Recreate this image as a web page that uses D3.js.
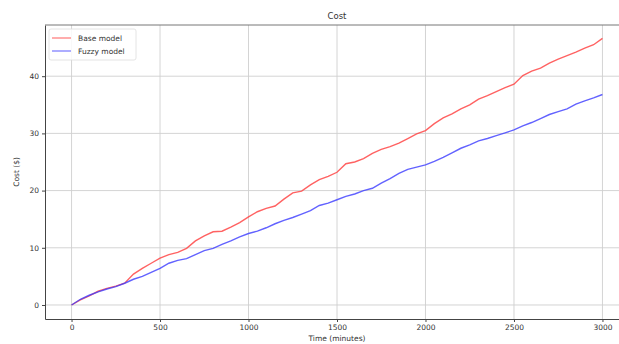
<!DOCTYPE html>
<html><head><meta charset="utf-8">
<script src="https://cdn.jsdelivr.net/npm/d3@7"></script>
<style>body{margin:0;background:#fff}svg{display:block}text{font-family:"DejaVu Sans",sans-serif;fill:#333}</style>
</head><body><svg id="c" width="619" height="344"></svg>
<script>
const times = [0,50,100,150,200,250,300,350,400,450,500,550,600,650,700,750,800,850,900,950,1000,1050,1100,1150,1200,1250,1300,1350,1400,1450,1500,1550,1600,1650,1700,1750,1800,1850,1900,1950,2000,2050,2100,2150,2200,2250,2300,2350,2400,2450,2500,2550,2600,2650,2700,2750,2800,2850,2900,2950,3000];
const baseModel = [0,0.9,1.6,2.4,2.9,3.3,3.8,5.4,6.4,7.3,8.2,8.8,9.2,9.9,11.2,12.1,12.8,12.9,13.6,14.4,15.4,16.3,16.9,17.3,18.5,19.6,19.9,21.0,21.9,22.5,23.2,24.7,25.0,25.6,26.5,27.2,27.7,28.3,29.1,29.9,30.5,31.7,32.7,33.4,34.3,35.0,36.0,36.6,37.3,38.0,38.6,40.1,40.9,41.4,42.3,43.0,43.6,44.2,44.9,45.5,46.6];
const fuzzyModel = [0,1.0,1.7,2.3,2.8,3.2,3.8,4.5,5.0,5.7,6.4,7.3,7.8,8.1,8.8,9.5,9.9,10.6,11.2,11.9,12.5,12.9,13.5,14.2,14.8,15.3,15.9,16.5,17.4,17.8,18.4,19.0,19.4,20.0,20.4,21.3,22.1,23.0,23.7,24.1,24.5,25.1,25.8,26.6,27.4,28.0,28.7,29.1,29.6,30.1,30.6,31.3,31.9,32.6,33.3,33.8,34.3,35.1,35.7,36.2,36.8];
const xTicks = [0,500,1000,1500,2000,2500,3000];
const yTicks = [0,10,20,30,40];
const seriesNames = ["Base model","Fuzzy model"];
const seriesColors = ["#ff3b3b","#3b3bff"];

const svg = d3.select("#c");
const L = 45, R = 629, T = 25, B = 319;
const x = d3.scaleLinear().domain([-150,3150]).range([L,R]);
const y = d3.scaleLinear().domain([-2.45,48.95]).range([B,T]);

const g = svg.append("g");
g.selectAll(".gx").data(xTicks).enter().append("line")
  .attr("x1",d=>x(d)).attr("x2",d=>x(d)).attr("y1",T).attr("y2",B)
  .attr("stroke","#cfcfcf").attr("stroke-width",0.9);
g.selectAll(".gy").data(yTicks).enter().append("line")
  .attr("y1",d=>y(d)).attr("y2",d=>y(d)).attr("x1",L).attr("x2",R)
  .attr("stroke","#cfcfcf").attr("stroke-width",0.9);

const xa = svg.append("g").attr("transform",`translate(0,${B})`)
  .call(d3.axisBottom(x).tickValues(xTicks).tickSizeInner(3).tickSizeOuter(0).tickPadding(3).tickFormat(d3.format("d")));
const ya = svg.append("g").attr("transform",`translate(${L},0)`)
  .call(d3.axisLeft(y).tickValues(yTicks).tickSizeInner(3).tickSizeOuter(0).tickPadding(3));
[xa,ya].forEach(a=>{a.select(".domain").attr("stroke","#444").attr("stroke-width",1);
  a.selectAll(".tick line").attr("stroke","#444");
  a.selectAll("text").attr("font-size",7.5).attr("fill","#333").attr("font-family","DejaVu Sans");});
svg.append("line").attr("x1",L).attr("x2",R).attr("y1",T).attr("y2",T).attr("stroke","#777").attr("stroke-width",1);

const data = [baseModel, fuzzyModel];
const line = d3.line().x((d,i)=>x(times[i])).y(d=>y(d));
data.forEach((vals,k)=>{
  svg.append("path").datum(vals).attr("d",line).attr("fill","none")
    .attr("stroke",seriesColors[k]).attr("stroke-width",1.4).attr("stroke-opacity",0.8);
});

svg.append("text").attr("x",337).attr("y",19).attr("text-anchor","middle").attr("font-size",8.5).text("Cost");
svg.append("text").attr("x",337).attr("y",341).attr("text-anchor","middle").attr("font-size",7.5).text("Time (minutes)");
svg.append("text").attr("transform","translate(19,172) rotate(-90)").attr("text-anchor","middle").attr("font-size",7.5).text("Cost ($)");

const lg = svg.append("g");
lg.append("rect").attr("x",49).attr("y",29).attr("width",87).attr("height",31)
  .attr("fill","#fff").attr("fill-opacity",0.85).attr("stroke","#ddd").attr("stroke-width",0.8).attr("rx",2);
seriesNames.forEach((n,k)=>{
  const yy = 38 + k*13;
  lg.append("line").attr("x1",52).attr("x2",71).attr("y1",yy).attr("y2",yy)
    .attr("stroke",seriesColors[k]).attr("stroke-width",1.4).attr("stroke-opacity",0.6);
  lg.append("text").attr("x",78).attr("y",yy+2.7).attr("font-size",7.5).text(n);
});
</script></body></html>
